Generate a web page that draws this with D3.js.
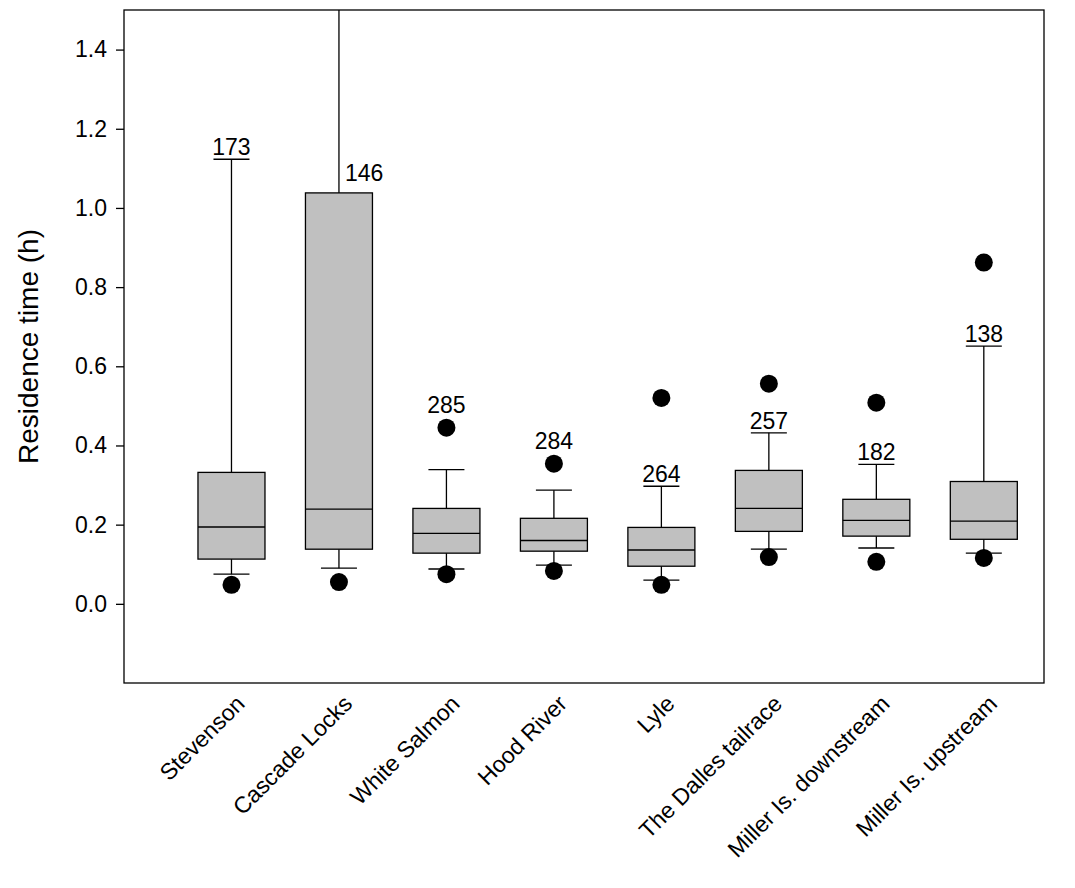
<!DOCTYPE html>
<html>
<head>
<meta charset="utf-8">
<script src="https://cdn.jsdelivr.net/npm/d3@7"></script>
<style>
  body { margin: 0; background: #fff; }
  text { font-family: "Liberation Sans", Arial, sans-serif; }
</style>
</head>
<body>
<script>
// data
var sites = ["Stevenson", "Cascade Locks", "White Salmon", "Hood River", "Lyle",
             "The Dalles tailrace", "Miller Is. downstream", "Miller Is. upstream"];
var counts = [173, 146, 285, 284, 264, 257, 182, 138];
var p5     = [0.048, 0.055, 0.075, 0.083, 0.048, 0.118, 0.106, 0.116];
var p10    = [0.075, 0.090, 0.088, 0.098, 0.060, 0.138, 0.141, 0.128];
var q1     = [0.113, 0.138, 0.128, 0.133, 0.095, 0.183, 0.171, 0.163];
var median = [0.194, 0.239, 0.178, 0.160, 0.136, 0.241, 0.211, 0.209];
var q3     = [0.332, 1.038, 0.241, 0.216, 0.193, 0.337, 0.264, 0.309];
var p90    = [1.123, 1.600, 0.339, 0.287, 0.297, 0.432, 0.352, 0.651];
var p95    = [null, null, 0.445, 0.354, 0.520, 0.556, 0.508, 0.862];
var yTicks = [0.0, 0.2, 0.4, 0.6, 0.8, 1.0, 1.2, 1.4];

var W = 1075, H = 888;
var m = {left: 124, right: 31, top: 10, bottom: 205};
var pw = W - m.left - m.right, ph = H - m.top - m.bottom;

var svg = d3.select("body").append("svg").attr("width", W).attr("height", H);
var g = svg.append("g").attr("transform", "translate(" + m.left + "," + m.top + ")");

var x = d3.scaleLinear().domain([0, 8.56]).range([0, pw]);
var y = d3.scaleLinear().domain([-0.2, 1.5]).range([ph, 0]);

g.append("clipPath").attr("id", "clip").append("rect").attr("width", pw).attr("height", ph);
var plot = g.append("g").attr("clip-path", "url(#clip)");

var boxW = 67, capW = 36;
sites.forEach(function(s, i) {
  var cx = x(i + 1);
  var hi = plot.append("g");
  // whiskers
  hi.append("line").attr("x1", cx).attr("x2", cx).attr("y1", y(q3[i])).attr("y2", y(p90[i])).attr("stroke", "#000").attr("stroke-width", 1.3);
  hi.append("line").attr("x1", cx).attr("x2", cx).attr("y1", y(q1[i])).attr("y2", y(p10[i])).attr("stroke", "#000").attr("stroke-width", 1.3);
  if (i !== 1) hi.append("line").attr("x1", cx - capW / 2).attr("x2", cx + capW / 2).attr("y1", y(p90[i])).attr("y2", y(p90[i])).attr("stroke", "#000").attr("stroke-width", 1.3);
  hi.append("line").attr("x1", cx - capW / 2).attr("x2", cx + capW / 2).attr("y1", y(p10[i])).attr("y2", y(p10[i])).attr("stroke", "#000").attr("stroke-width", 1.3);
  // box
  hi.append("rect").attr("x", cx - boxW / 2).attr("width", boxW)
    .attr("y", y(q3[i])).attr("height", y(q1[i]) - y(q3[i]))
    .attr("fill", "#c0c0c0").attr("stroke", "#000").attr("stroke-width", 1.3);
  hi.append("line").attr("x1", cx - boxW / 2).attr("x2", cx + boxW / 2).attr("y1", y(median[i])).attr("y2", y(median[i])).attr("stroke", "#000").attr("stroke-width", 1.3);
  // outlier points
  hi.append("circle").attr("cx", cx).attr("cy", y(p5[i])).attr("r", 9).attr("fill", "#000");
  if (p95[i] != null) hi.append("circle").attr("cx", cx).attr("cy", y(p95[i])).attr("r", 9).attr("fill", "#000");
  // count label
  var ly, lx = cx, anchor = "middle";
  if (i === 1) { ly = y(q3[i]) - 12; lx = cx + 6; anchor = "start"; }
  else if (i === 2 || i === 3) ly = y(p95[i]) - 15;
  else ly = y(p90[i]) - 4;
  g.append("text").attr("x", lx).attr("y", ly).attr("text-anchor", anchor)
    .attr("font-size", 23).text(counts[i]);
});

// frame
g.append("rect").attr("width", pw).attr("height", ph).attr("fill", "none").attr("stroke", "#000").attr("stroke-width", 1.3);

// y axis
var ya = g.append("g").call(d3.axisLeft(y).tickValues(yTicks).tickSize(8).tickFormat(d3.format(".1f")));
ya.select(".domain").remove();
ya.selectAll("text").attr("font-size", 23).attr("fill", "#000").attr("dx", -6);
ya.selectAll("line").attr("stroke-width", 1.3);

// x axis
var xa = g.append("g").attr("transform", "translate(0," + ph + ")")
  .call(d3.axisBottom(x).tickValues(d3.range(1, 9)).tickSize(0).tickFormat(function(d) { return sites[d - 1]; }));
xa.select(".domain").remove();
xa.selectAll("text").attr("font-size", 23).attr("fill", "#000")
  .attr("text-anchor", "end").attr("dy", 0)
  .attr("transform", "translate(12,20) rotate(-45)");

svg.append("text").attr("transform", "translate(38," + (m.top + y(0.65)) + ") rotate(-90)")
  .attr("text-anchor", "middle").attr("font-size", 28).text("Residence time (h)");
</script>
</body>
</html>
